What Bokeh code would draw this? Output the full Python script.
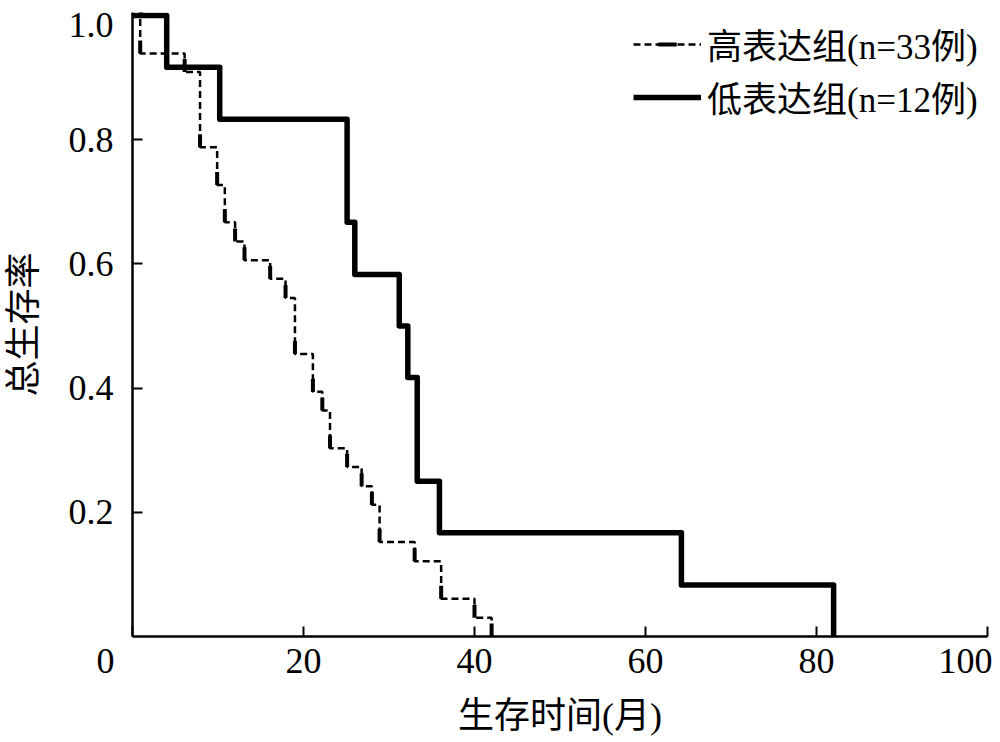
import numpy as np
from bokeh.plotting import figure
from bokeh.models import Legend, LegendItem, FixedTicker, LinearAxis
from bokeh.embed import file_html
from bokeh.resources import INLINE

# ---------------- data ----------------
x_ticks = [0, 20, 40, 60, 80, 100]
x_tick_labels = ["0", "20", "40", "60", "80", "100"]
y_ticks = [0.2, 0.4, 0.6, 0.8, 1.0]
y_tick_labels = ["0.2", "0.4", "0.6", "0.8", "1.0"]
x_title = "生存时间(月)"
y_title = "总生存率"
high_label = "高表达组(n=33例)"
low_label = "低表达组(n=12例)"

# high-expression group (dashed), Kaplan-Meier steps
high_time = [0, 0.9, 6.1, 7.9, 9.9, 10.8, 12.0, 13.1, 16.1, 17.9, 19.0, 21.1,
             22.2, 23.1, 25.1, 26.8, 28.0, 28.9, 33.0, 36.1, 40.0, 42.0]
high_surv = [1.0, 0.939, 0.909, 0.788, 0.727, 0.667, 0.636, 0.606, 0.576, 0.545,
             0.455, 0.394, 0.364, 0.303, 0.273, 0.242, 0.212, 0.152, 0.121,
             0.061, 0.030, 0.0]
high_censor_time = [0.9, 6.1, 7.9, 9.9, 10.8, 12.0, 13.1, 16.1, 17.9, 19.0, 21.1,
                    22.2, 23.1, 25.1, 26.8, 28.0, 28.9, 33.0, 36.1, 40.0, 42.0]
high_censor_surv = [0.939, 0.909, 0.788, 0.727, 0.667, 0.636, 0.606, 0.576, 0.545,
                    0.455, 0.394, 0.364, 0.303, 0.273, 0.242, 0.212, 0.152, 0.121,
                    0.061, 0.030, 0.0]

# low-expression group (solid)
low_time = [0, 4.0, 10.2, 25.1, 26.0, 31.2, 32.2, 33.3, 35.9, 64.2, 82.0]
low_surv = [1.0, 0.917, 0.833, 0.667, 0.583, 0.5, 0.417, 0.25, 0.167, 0.083, 0.0]
low_censor_time = [1.0]
low_censor_surv = [1.0]

# ---------------- figure ----------------
FONT = "Liberation Serif, Noto Sans CJK SC"
Y_END = 1.005
W, H = 1000, 742
B_LEFT, B_RIGHT, B_TOP, B_BOTTOM = 131, 13, 12, 106
FRAME_W = W - B_LEFT - B_RIGHT
FRAME_H = H - B_TOP - B_BOTTOM

p = figure(width=W, height=H, x_range=(0, 100), y_range=(0, Y_END),
           output_backend="svg", toolbar_location=None,
           min_border_left=B_LEFT, min_border_right=B_RIGHT,
           min_border_top=B_TOP, min_border_bottom=B_BOTTOM)
p.grid.visible = False
p.outline_line_color = None
p.background_fill_color = "white"

# axes carrying the lines and inward ticks
for ax in (p.xaxis[0], p.yaxis[0]):
    ax.axis_line_width = 2.5
    ax.axis_line_color = "black"
    ax.major_tick_in = 10
    ax.major_tick_out = 0
    ax.major_tick_line_width = 2
    ax.major_tick_line_color = "black"
    ax.minor_tick_line_color = None
    ax.major_label_text_font_size = "1px"
    ax.major_label_standoff = 0
p.xaxis[0].ticker = FixedTicker(ticks=x_ticks)
p.yaxis[0].ticker = FixedTicker(ticks=y_ticks)
p.xaxis[0].major_label_overrides = {t: "" for t in x_ticks}
p.yaxis[0].major_label_overrides = {t: "" for t in y_ticks}

# label axes: tick labels placed as in the original (end labels nudged inward)
x_px = FRAME_W / 100.0
y_px = FRAME_H / Y_END
x_label_pos = list(x_ticks)
x_label_pos[-1] = x_ticks[-1] - 22 / x_px
x_label_txt = list(x_tick_labels)
x_label_txt[0] = x_tick_labels[0] + "\u00a0" * 6
y_label_pos = list(y_ticks)
y_label_pos[-1] = y_ticks[-1] - 9 / y_px

xlab = LinearAxis(ticker=FixedTicker(ticks=x_label_pos),
                  major_label_overrides=dict(zip(x_label_pos, x_label_txt)))
ylab = LinearAxis(ticker=FixedTicker(ticks=y_label_pos),
                  major_label_overrides=dict(zip(y_label_pos, y_tick_labels)))
for ax in (xlab, ylab):
    ax.axis_line_color = None
    ax.major_tick_line_color = None
    ax.minor_tick_line_color = None
    ax.major_tick_in = 0
    ax.major_tick_out = 0
    ax.major_label_text_font = FONT
    ax.major_label_text_font_size = "36px"
    ax.major_label_text_color = "black"
    ax.axis_label_text_font = FONT
    ax.axis_label_text_font_size = "36px"
    ax.axis_label_text_font_style = "normal"
    ax.axis_label_text_color = "black"
xlab.axis_label = x_title
ylab.axis_label = y_title
xlab.major_label_standoff = 4
xlab.axis_label_standoff = 12
ylab.major_label_standoff = 19
ylab.axis_label_standoff = 22
p.add_layout(xlab, "below")
p.add_layout(ylab, "left")

# curves
r_high = p.step(high_time, high_surv, mode="after", line_color="black",
                line_width=2.5, line_dash="7 4")
r_low = p.step(low_time, low_surv, mode="after", line_color="black",
               line_width=5.5, line_join="round")

tick_len = 13
r_hc = p.scatter(high_censor_time, [s + tick_len / 2 / y_px for s in high_censor_surv],
                 marker="dash", angle=np.pi / 2, size=tick_len,
                 line_width=4, line_color="black")
r_lc = p.scatter(low_censor_time, [s + tick_len / 2 / y_px for s in low_censor_surv],
                 marker="dash", angle=np.pi / 2, size=tick_len,
                 line_width=4.5, line_color="black")

legend = Legend(items=[LegendItem(label=high_label, renderers=[r_high, r_hc]),
                       LegendItem(label=low_label, renderers=[r_low, r_lc])],
                location=(501, 514), glyph_width=68, glyph_height=46,
                label_height=46, spacing=2, padding=0, margin=0,
                label_standoff=6, label_text_font=FONT,
                label_text_font_size="35px", label_text_color="black",
                border_line_color=None, background_fill_alpha=0)
p.add_layout(legend)

open("out.html", "w").write(file_html(p, INLINE))
